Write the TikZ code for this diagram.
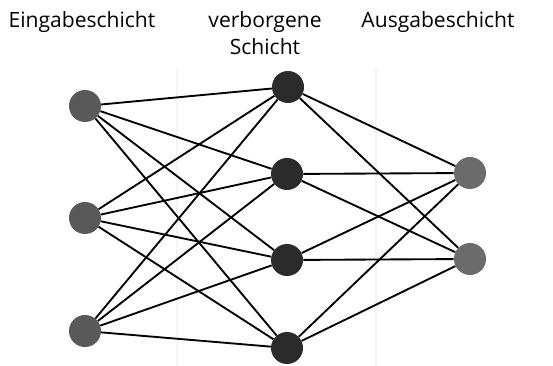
\documentclass[tikz,border=0pt]{standalone}
\usepackage{fontspec}
\setmainfont{Open Sans}
\begin{document}
\begin{tikzpicture}[x=0.75pt,y=-0.75pt,
  neuron/.style={circle,inner sep=0pt,minimum size=24pt},
  inn/.style={neuron,fill=black!65},
  hid/.style={neuron,fill=black!83},
  outn/.style={neuron,fill=black!58},
  conn/.style={line width=1.4pt,black},
  guide/.style={draw=black!4,line width=0.8pt},
  lbl/.style={font=\fontsize{15.8}{20.5}\selectfont,align=center,inner sep=0pt}]
\useasboundingbox[fill=white] (0,0) rectangle (553,366);
\coordinate (g1t) at (177,68); \coordinate (g1b) at (177,366);
\coordinate (g2t) at (376,68); \coordinate (g2b) at (376,366);
\draw[guide] (g1t) -- (g1b);
\draw[guide] (g2t) -- (g2b);
\node[lbl,anchor=base] (t1) at (82,28) {Eingabeschicht};
\node[lbl,anchor=base] (t2) at (265,55) {verborgene\\Schicht};
\node[lbl,anchor=base] (t3) at (438,28) {Ausgabeschicht};
\node[inn] (i1) at (85,106) {};
\node[inn] (i2) at (85,218) {};
\node[inn] (i3) at (85,331) {};
\node[hid] (h1) at (288,87) {};
\node[hid] (h2) at (287,174) {};
\node[hid] (h3) at (287,260) {};
\node[hid] (h4) at (287,348) {};
\node[outn] (o1) at (470,173) {};
\node[outn] (o2) at (470,259) {};
\foreach \a in {i1,i2,i3}{\foreach \b in {h1,h2,h3,h4}{\draw[conn] (\a) -- (\b);}}
\foreach \a in {h1,h2,h3,h4}{\foreach \b in {o1,o2}{\draw[conn] (\a) -- (\b);}}
\end{tikzpicture}
\end{document}
